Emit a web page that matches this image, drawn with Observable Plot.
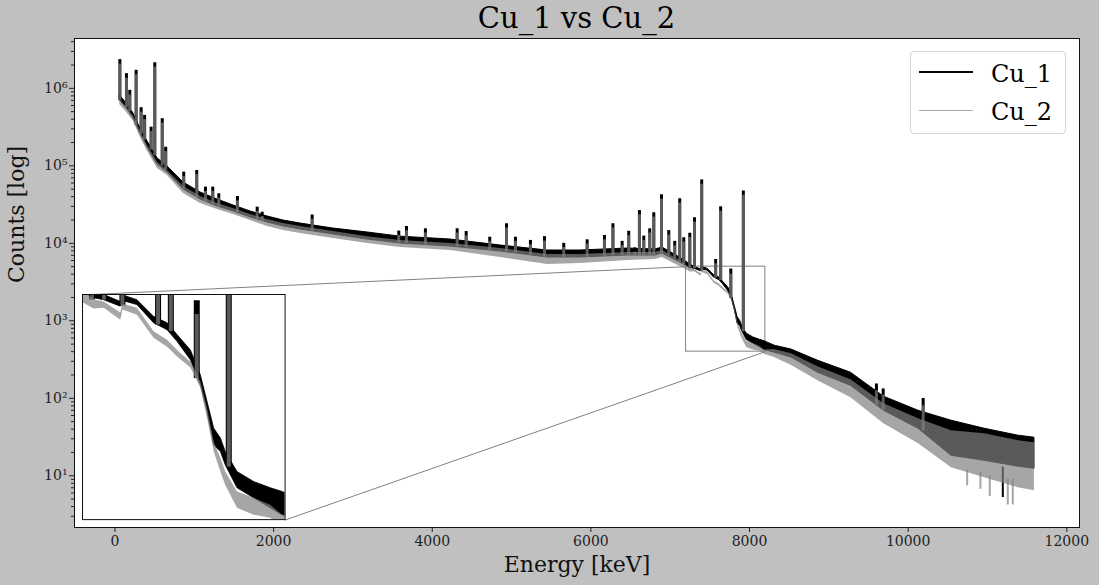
<!DOCTYPE html>
<html><head><meta charset="utf-8">
<script src="https://cdn.jsdelivr.net/npm/d3@7"></script>
<script src="https://cdn.jsdelivr.net/npm/@observablehq/plot@0.6"></script>
<style>
html,body{margin:0;padding:0;background:#c0c0c0;}
#wrap{position:relative;width:1099px;height:585px;background:#c0c0c0;font-family:"DejaVu Serif",serif;overflow:hidden;}
#title{position:absolute;left:0;top:3.5px;width:1153px;text-align:center;font-size:29px;line-height:29px;color:#000;white-space:nowrap;}
#legend{position:absolute;left:910px;top:51px;width:156px;height:83px;box-sizing:border-box;border:1px solid #d4d4d4;border-radius:4px;background:rgba(255,255,255,0.8);}
.lg-line{position:absolute;left:8px;width:54px;}
.lg-text{position:absolute;left:80px;font-size:24px;line-height:24px;white-space:nowrap;color:#000;}
#inset{position:absolute;}
</style>
</head><body>
<div id="wrap"><div id="title"></div><div id="legend"></div></div>
<script>
// ---- series ----
const seriesNames = ["Cu_1", "Cu_2"];
// continuum envelope (keV, counts): upper / lower edges of each noisy trace
const energy = [60,158,233,321,410,536,662,864,1078,1292,1494,1708,1923,2124,2339,2755,3183,3599,4230,4860,5453,5869,6461,6814,6902,7129,7257,7307,7389,7400,7471,7553,7620,7669,7735,7784,7817,7850,7883,7907,7965,8047,8129,8187,8315,8530,8862,9278,9694,10130,10546,10962,11390,11592];
const cu1High = [812000,621000,475000,304000,207000,125000,98200,61000,45300,36800,30800,25800,22200,19700,18000,15500,13800,12200,11200,9370,8080,8080,8570,8320,8830,6500,5300,4970,4600,4950,4690,3890,3620,3170,2670,2020,1500,1110,995,855,682,610,569,546,478,425,306,214,105,69,51.4,40.5,32.9,31.0];
const cu1Low = [700000,535000,410000,262000,173000,104000,82200,49600,36800,29900,25800,21600,18600,16500,15100,13000,11200,9940,9090,7840,6560,6560,6960,6960,7390,5600,4800,4690,4360,4650,4440,3620,3350,2940,2390,1810,1340,920,855,736,569,508,454,420,388,335,214,145,69,40.5,18.1,15.6,13.1,12.3];
const cu2High = [721000,551000,435000,278000,183000,111000,87200,54200,40200,32700,28200,23600,20300,18000,16500,14200,12200,10900,9940,8570,7170,7170,7610,7610,8080,5900,4700,4600,4060,4500,4290,3290,2990,2670,2340,1880,1400,955,796,682,546,508,470,420,425,377,256,174,85,54.5,38.1,34.9,28.4,26.7];
const cu2Low = [621000,475000,375000,233000,154000,92500,75200,44000,32700,27300,23600,19700,16500,14600,13400,11500,9940,8830,8080,6560,5320,5480,6000,6180,6560,5000,4250,4290,3750,4200,3960,3060,2770,2480,2190,1750,1250,855,682,587,454,420,406,370,335,264,169,102,47,25.9,12.7,9.4,7.0,6.4];
// peaks
const peakEnergy = [62,145,187,267,330,374,456,502,596,640,867,1031,1141,1233,1309,1544,1793,1856,2486,3578,3675,3914,4314,4428,4725,4936,5049,5238,5415,5658,5953,6171,6278,6394,6477,6553,6612,6667,6742,6793,6890,6982,7057,7120,7171,7247,7306,7397,7573,7636,7764,7922,9600,9685,10189];
const peakCu1 = [2350000,1550000,942000,1710000,563000,448000,316000,2140000,406000,174000,82900,87200,53100,53100,43600,40200,29300,25200,23200,14400,16500,15400,15400,14200,12000,17900,12000,10900,12200,10000,11100,12600,17900,10600,14300,8750,26500,12400,15400,24800,42300,14600,10600,37600,11800,13500,21400,65800,6180,29600,4660,47400,153,132,99.4];
const peakCu2 = [2050000,1350000,820000,1500000,495000,395000,278000,1880000,357000,153000,73000,77000,46700,46700,38400,35400,25800,22200,20400,12700,14500,13600,13600,12500,10600,15800,10600,9600,10700,8800,9800,11100,15800,9300,12600,7700,23300,10900,13600,21800,37200,12800,9300,33100,10400,11900,18800,57900,5440,26000,4000,41700,125,110,80];
const peakBase = [700000,560000,500000,330000,255000,215000,160000,135000,100000,88000,50000,39000,34000,31000,29500,25000,20500,19500,14500,10000,9900,9500,9000,8800,8100,7800,7500,7000,6600,6500,6600,6800,6900,6950,6950,6950,6950,6950,6950,6950,7300,7000,6300,5700,5300,4700,4690,4400,3550,3300,1950,720,80,70,38];
// downward noise dips
const dipEnergy1 = [11193], dipCu1 = [5.24], dipTop1 = [13];
const dipEnergy2 = [10744,10911,11029,11256,11319], dipCu2 = [7.4,6.7,5.4,4.2,4.2], dipTop2 = [12,11,10,9,9];
// axes
const xTicks = [0,2000,4000,6000,8000,10000,12000];
const yTicks = [1e1,1e2,1e3,1e4,1e5,1e6];
const xDomain = [-510, 12160], yDomain = [2.15, 4.4e6];
// zoomed region and inset placement (axes fraction: left, bottom, width, height)
const zoomX = [7200, 8200], zoomY = [400, 5000];
const insetBounds = [0.0077, 0.0151, 0.2016, 0.4604];

// ---- tables ----
const cont = energy.map((e,i)=>({e, hi1:cu1High[i], lo1:cu1Low[i], hi2:cu2High[i], lo2:cu2Low[i]}));
const peaks = peakEnergy.map((e,i)=>({e, t1:peakCu1[i], t2:peakCu2[i], b:peakBase[i]}));
const dips1 = dipEnergy1.map((e,i)=>({e, lo:dipCu1[i], hi:dipTop1[i]}));
const dips2 = dipEnergy2.map((e,i)=>({e, lo:dipCu2[i], hi:dipTop2[i]}));
const yMinor = [];
for (let k = 0; k <= 6; k++) for (let m = 2; m <= 9; m++) { const v = m * 10 ** k; if (v > yDomain[0] && v < yDomain[1]) yMinor.push(v); }
const sup = "⁰¹²³⁴⁵⁶⁷⁸⁹";
const fmtPow = d => "10" + String(Math.round(Math.log10(d))).split("").map(c => sup[+c]).join("");

const W = 1099, H = 585, mL = 74, mR = 20, mT = 38, mB = 58;
const xs = Plot.scale({x: {domain: xDomain, range: [mL, W - mR]}});
const ys = Plot.scale({y: {type: "log", domain: yDomain, range: [H - mB, mT]}});
const fw = W - mL - mR, fh = H - mT - mB;
const ix1 = mL + insetBounds[0] * fw, ix2 = ix1 + insetBounds[2] * fw;
const iy2 = (H - mB) - insetBounds[1] * fh, iy1 = iy2 - insetBounds[3] * fh;
const inset = {x1: xs.invert(ix1), x2: xs.invert(ix2), yb: ys.invert(iy2), yt: ys.invert(iy1)};
const connectors = [
  {x1: zoomX[0], y1: zoomY[1], x2: inset.x1, y2: inset.yt},
  {x1: zoomX[1], y1: zoomY[0], x2: inset.x2, y2: inset.yb}
];
const zoomBox = [{x1: zoomX[0], x2: zoomX[1], y1: zoomY[0], y2: zoomY[1]}];

function dataMarks(pw, clip) {
  return [
    Plot.areaY(cont, {x: "e", y1: "lo1", y2: "hi1", fill: "black", stroke: "black", strokeWidth: clip ? 0.8 : 1, clip}),
    Plot.ruleX(peaks, {x: "e", y1: "b", y2: "t1", stroke: "black", strokeWidth: pw[0], clip}),
    Plot.ruleX(dips1, {x: "e", y1: "lo", y2: "hi", stroke: "black", strokeWidth: 2, clip}),
    Plot.areaY(cont, {x: "e", y1: "lo2", y2: "hi2", fill: "gray", fillOpacity: 0.7, clip}),
    Plot.ruleX(peaks, {x: "e", y1: "b", y2: "t2", stroke: "gray", strokeOpacity: 0.7, strokeWidth: pw[1], clip}),
    Plot.ruleX(dips2, {x: "e", y1: "lo", y2: "hi", stroke: "gray", strokeOpacity: 0.7, strokeWidth: 2, clip})
  ];
}

const main = Plot.plot({
  width: W, height: H, marginLeft: mL, marginRight: mR, marginTop: mT, marginBottom: mB,
  style: {background: "transparent", fontFamily: "DejaVu Serif", overflow: "visible"},
  x: {domain: xDomain},
  y: {type: "log", domain: yDomain},
  marks: [
    Plot.frame({fill: "white", stroke: null}),
    Plot.rect(zoomBox, {x1: "x1", x2: "x2", y1: "y1", y2: "y2", fill: "none", stroke: "#808080", strokeWidth: 1}),
    Plot.link(connectors, {x1: "x1", y1: "y1", x2: "x2", y2: "y2", stroke: "#808080", strokeWidth: 1}),
    ...dataMarks([3, 3], false),
    Plot.frame({stroke: "#111", strokeWidth: 1}),
    Plot.axisX({ticks: xTicks, tickSize: 5, tickPadding: 4, tickFormat: d3.format("d"), fontSize: 14, label: null, color: "#222"}),
    Plot.axisY({ticks: yTicks, tickSize: 5, tickPadding: 2, tickFormat: fmtPow, fontSize: 14, label: null, color: "#222"}),
    Plot.axisY({ticks: yMinor, tickSize: 3, tickFormat: () => "", label: null, color: "#222"}),
    Plot.text(["Energy [keV]"], {frameAnchor: "bottom", dy: 44, fontSize: 22, fill: "#111"}),
    Plot.text(["Counts [log]"], {frameAnchor: "left", dx: -58, rotate: -90, fontSize: 22, fill: "#111"})
  ]
});
const wrap = document.getElementById("wrap");
wrap.appendChild(main);

const insetPlot = Plot.plot({
  width: ix2 - ix1, height: iy2 - iy1, margin: 0,
  style: {background: "transparent", overflow: "visible"},
  x: {domain: zoomX, axis: null},
  y: {type: "log", domain: zoomY, axis: null},
  marks: [
    Plot.frame({fill: "white", stroke: null}),
    ...dataMarks([6, 4], true),
    Plot.frame({stroke: "#111", strokeWidth: 1})
  ]
});
insetPlot.id = "inset";
insetPlot.style.left = ix1 + "px";
insetPlot.style.top = iy1 + "px";
insetPlot.style.position = "absolute";
wrap.appendChild(insetPlot);

document.getElementById("title").textContent = seriesNames.join(" vs ");

const legend = document.getElementById("legend");
const lgStyles = [{top: 18.7, h: 2.5, color: "black", op: 1}, {top: 57.5, h: 1, color: "gray", op: 0.7}];
seriesNames.forEach((name, i) => {
  const ln = document.createElement("div");
  ln.className = "lg-line";
  ln.style.top = lgStyles[i].top + "px";
  ln.style.height = lgStyles[i].h + "px";
  ln.style.background = lgStyles[i].color;
  ln.style.opacity = lgStyles[i].op;
  legend.appendChild(ln);
  const tx = document.createElement("div");
  tx.className = "lg-text";
  tx.style.top = (i === 0 ? 10.4 : 48) + "px";
  tx.textContent = name;
  legend.appendChild(tx);
});
</script>
</body></html>
